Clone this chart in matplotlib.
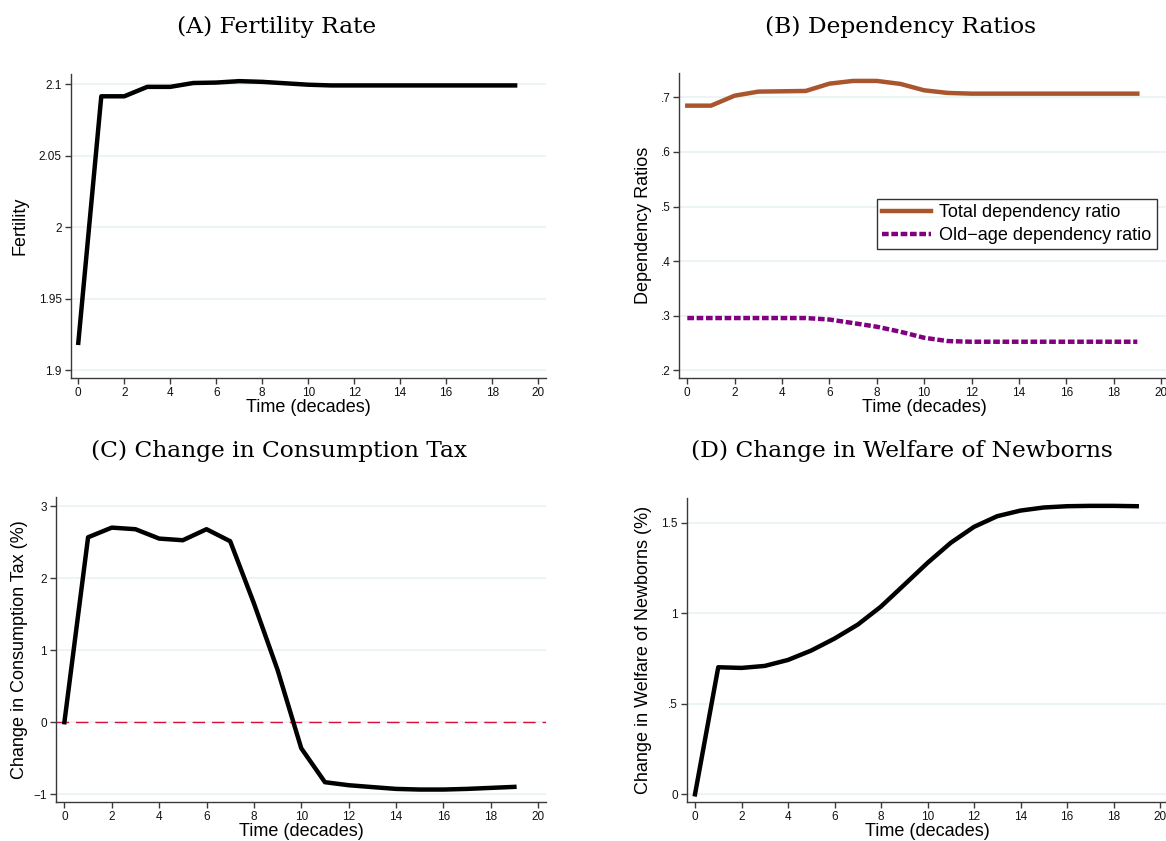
import matplotlib
matplotlib.use("Agg")
import matplotlib.pyplot as plt
import numpy as np

# ---- data -------------------------------------------------------------
decades = list(range(20))

fertility = [1.919, 2.0914, 2.0914, 2.098, 2.098, 2.1007, 2.101, 2.102,
             2.1015, 2.1005, 2.0995, 2.099, 2.099, 2.099, 2.099, 2.099,
             2.099, 2.099, 2.099, 2.099]

total_dep = [0.6847, 0.6847, 0.703, 0.7104, 0.711, 0.7116, 0.725, 0.730,
             0.730, 0.7245, 0.7128, 0.708, 0.7067, 0.7067, 0.7067, 0.7067,
             0.7067, 0.7067, 0.7067, 0.7067]

oldage_dep = [0.2957, 0.2957, 0.2957, 0.2957, 0.2957, 0.2957, 0.293, 0.2865,
              0.2798, 0.2706, 0.2596, 0.2535, 0.2523, 0.2523, 0.2523, 0.2523,
              0.2523, 0.2523, 0.2523, 0.2523]

cons_tax = [0.0, 2.566, 2.70, 2.678, 2.548, 2.525, 2.678, 2.511, 1.651,
            0.726, -0.361, -0.832, -0.874, -0.90, -0.925, -0.934, -0.934,
            -0.925, -0.911, -0.897]

welfare = [0.0, 0.7017, 0.698, 0.709, 0.742, 0.794, 0.860, 0.937, 1.037,
           1.157, 1.278, 1.389, 1.477, 1.536, 1.567, 1.584, 1.591, 1.593,
           1.593, 1.591]

x_ticks = list(range(0, 21, 2))
fert_ticks = [1.9, 1.95, 2.0, 2.05, 2.1]
fert_labels = ["1.9", "1.95", "2", "2.05", "2.1"]
dep_ticks = [0.2, 0.3, 0.4, 0.5, 0.6, 0.7]
dep_labels = [".2", ".3", ".4", ".5", ".6", ".7"]
tax_ticks = [-1, 0, 1, 2, 3]
tax_labels = ["\u22121", "0", "1", "2", "3"]
wel_ticks = [0, 0.5, 1, 1.5]
wel_labels = ["0", ".5", "1", "1.5"]

titles = ["(A) Fertility Rate", "(B) Dependency Ratios",
          "(C) Change in Consumption Tax", "(D) Change in Welfare of Newborns"]
ylabels = ["Fertility", "Dependency Ratios", "Change in Consumption Tax (%)",
           "Change in Welfare of Newborns (%)"]
xlabel = "Time (decades)"
legend_labels = ["Total dependency ratio", "Old\u2212age dependency ratio"]

# ---- figure -----------------------------------------------------------
W, H = 1166, 841
fig = plt.figure(figsize=(W / 100, H / 100), dpi=100)
fig.patch.set_facecolor("white")

SANS = ["Liberation Sans", "DejaVu Sans"]
SERIF = ["DejaVu Serif"]
GRID = "#EAF2F3"
AXC = "#3a3a3a"


def make_axes(spine_l, spine_r, top, bottom, x0px, x20px, ya, ya_px, yb, yb_px,
              ylab_x, xlab_base):
    """Create axes from pixel geometry and set limits so ticks land in place."""
    ax = fig.add_axes([spine_l / W, 1 - bottom / H,
                       (spine_r - spine_l) / W, (bottom - top) / H])
    sx = (x20px - x0px) / 20.0
    ax.set_xlim((spine_l - x0px) / sx, (spine_r - x0px) / sx)
    sy = (ya_px - yb_px) / (yb - ya)
    ax.set_ylim(ya - (bottom - ya_px) / sy, ya + (ya_px - top) / sy)
    for s in ("top", "right"):
        ax.spines[s].set_visible(False)
    for s in ("left", "bottom"):
        ax.spines[s].set_color(AXC)
        ax.spines[s].set_linewidth(1.0)
    ax.tick_params(direction="out", length=4.5, width=1.0, color=AXC,
                   labelsize=8.5, pad=2, labelcolor="#111111")
    ax.set_xticks(x_ticks)
    ax.set_xticklabels([str(t) for t in x_ticks], fontfamily=SANS)
    ax.grid(axis="y", color=GRID, linewidth=1.2)
    ax.set_axisbelow(True)
    ax.set_xlabel(xlabel, fontsize=13, fontfamily=SANS, va="baseline")
    ax.xaxis.set_label_coords(0.5, (bottom - xlab_base) / (bottom - top))
    ax.yaxis.set_label_coords((ylab_x - spine_l) / (spine_r - spine_l), 0.5)
    return ax


def set_y(ax, ticks, labels, label):
    ax.set_yticks(ticks)
    ax.set_yticklabels(labels, fontfamily=SANS)
    ax.set_ylabel(label, fontsize=13, fontfamily=SANS, va="center")


# (A) Fertility
axA = make_axes(70.7, 546, 73.5, 377.7, 78.3, 538.1, 1.9, 370, 2.1, 84,
                20, 412)
set_y(axA, fert_ticks, fert_labels, ylabels[0])
axA.plot(decades, fertility, color="black", lw=3.2)

# (B) Dependency ratios
axB = make_axes(679.3, 1169, 73.3, 377.7, 687.3, 1161, 0.2, 370.3, 0.7, 97.3,
                643, 412)
set_y(axB, dep_ticks, dep_labels, ylabels[1])
axB.plot(decades, total_dep, color="#A9562F", lw=3.2, label=legend_labels[0])
axB.plot(decades, oldage_dep, color="#800080", lw=3.2,
         linestyle=(0, (1.5, 0.6)), label=legend_labels[1])
leg = axB.legend(loc="upper left",
                 bbox_to_anchor=((877 - 679.3) / (1169 - 679.3),
                                 1 - (199 - 73.3) / (377.7 - 73.3)),
                 frameon=True, fancybox=False, edgecolor="black",
                 prop={"family": SANS, "size": 13}, handlelength=2.7,
                 borderpad=0.3, labelspacing=0.3, handletextpad=0.45,
                 borderaxespad=0)
leg.get_frame().set_linewidth(1.0)

# (C) Consumption tax
axC = make_axes(56, 546.3, 497.3, 802.3, 64.4, 538.1, -1, 794.3, 3, 506,
                20, 836.5)
set_y(axC, tax_ticks, tax_labels, ylabels[2])
axC.axhline(0, color="#D6103B", lw=1.0, linestyle=(0, (9, 5)))
axC.plot(decades, cons_tax, color="black", lw=3.2)

# (D) Welfare of newborns
axD = make_axes(687, 1168, 497.7, 802.3, 695, 1160, 0, 794.3, 1.5, 522.7,
                643, 836.5)
set_y(axD, wel_ticks, wel_labels, ylabels[3])
axD.plot(decades, welfare, color="black", lw=3.2)

# panel titles
for (cx, cy), t in zip([(277, 27), (901, 27), (279, 451), (902, 451)], titles):
    fig.text(cx / W, 1 - cy / H, t, ha="center", va="center",
             fontsize=16.8, fontfamily=SERIF)

fig.savefig("out.png", dpi=100, facecolor="white")
